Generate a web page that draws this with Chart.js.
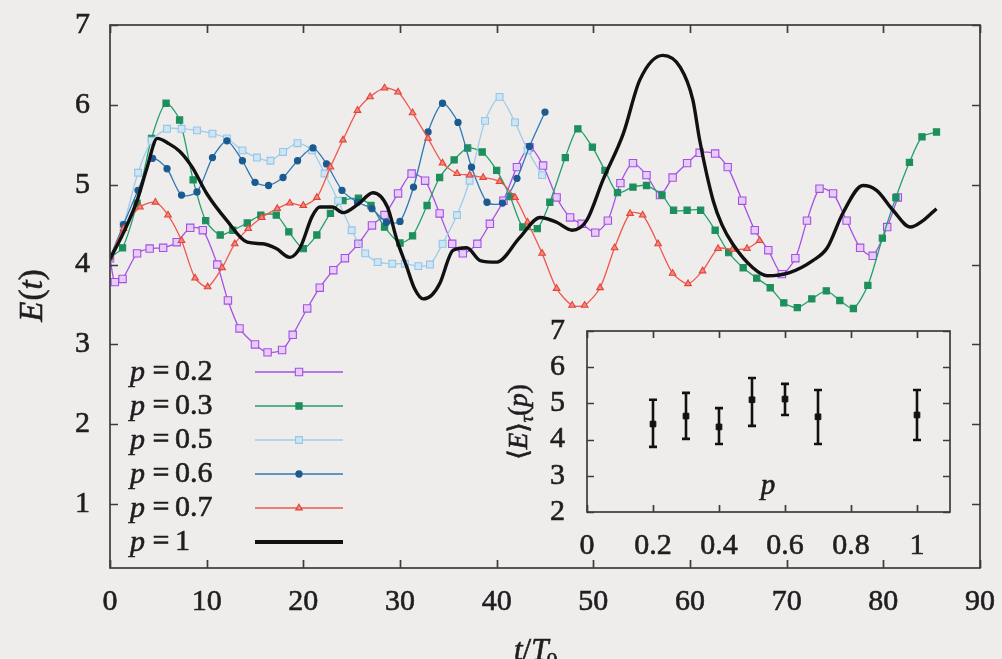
<!DOCTYPE html>
<html>
<head>
<meta charset="utf-8">
<script src="https://cdn.jsdelivr.net/npm/chart.js@4.4.1/dist/chart.umd.min.js"></script>
<style>
  html, body { margin: 0; padding: 0; background: #efecec; }
  #wrap { position: relative; width: 1002px; height: 659px; overflow: hidden; background: #efecec; }
  #main { position: absolute; left: 0; top: 0; }
  #inset { position: absolute; left: 490px; top: 300px; }
</style>
</head>
<body>
<div id="wrap">
  <canvas id="main" width="1002" height="659"></canvas>
  <canvas id="inset" width="480" height="280"></canvas>
</div>
<script>
// ---- Energy E(t) vs t/T0 for several p ----
const tP02 = [0.0,0.5,1.3,2.8,4.1,5.5,6.9,8.3,9.6,11.1,12.2,13.4,15.0,16.3,17.8,18.9,20.4,21.7,23.1,24.3,25.7,27.1,28.4,29.8,31.2,32.6,34.1,35.4,36.5,38.0,39.3,40.7,42.1,43.4,44.8,46.2,47.6,48.8,50.2,51.5,52.8,54.1,55.5,56.9,58.2,59.7,61.0,62.6,63.9,65.4,66.7,68.1,69.5,70.9,72.1,73.4,74.8,76.2,77.6,78.9,80.4,81.5];
const eP02 = [4.08,3.78,3.82,4.14,4.20,4.21,4.28,4.46,4.43,4.00,3.55,3.20,3.00,2.90,2.93,3.12,3.45,3.71,3.93,4.08,4.26,4.49,4.62,4.89,5.14,5.05,4.64,4.26,4.14,4.26,4.51,4.80,5.22,5.47,5.24,4.84,4.59,4.51,4.40,4.55,5.02,5.27,5.12,4.87,5.09,5.27,5.40,5.39,5.22,4.80,4.43,4.18,3.88,4.08,4.55,4.95,4.89,4.55,4.21,4.11,4.47,4.84];

const tP03 = [0.0,1.3,2.8,4.3,5.8,7.2,8.6,9.9,11.4,12.7,14.2,15.6,17.2,18.5,20.0,21.4,22.8,24.1,25.7,27.0,28.4,30.0,31.3,32.8,34.1,35.6,37.0,38.5,40.0,41.4,42.7,44.2,45.5,47.1,48.4,49.9,51.2,52.5,54.1,55.5,57.1,58.3,59.7,61.1,62.6,64.0,65.5,66.9,68.3,69.7,71.1,72.6,74.1,75.5,76.9,78.4,79.9,81.3,82.7,84.0,85.5];
const eP03 = [4.09,4.21,4.77,5.58,6.02,5.81,5.06,4.55,4.37,4.43,4.52,4.62,4.62,4.41,4.20,4.37,4.64,4.80,4.83,4.74,4.47,4.27,4.36,4.74,5.09,5.31,5.46,5.41,5.18,4.85,4.47,4.45,4.78,5.34,5.70,5.47,5.18,4.90,4.97,4.99,4.87,4.68,4.68,4.68,4.43,4.15,3.96,3.83,3.71,3.52,3.46,3.57,3.67,3.55,3.45,3.74,4.33,4.84,5.28,5.60,5.66];

const tP05 = [0.0,1.4,2.9,4.3,5.9,7.4,9.0,10.6,12.1,13.7,15.2,16.6,17.9,19.4,20.9,22.2,23.6,25.0,26.4,27.7,29.2,30.5,31.9,33.1,34.4,35.9,37.2,38.8,40.3,41.9,43.2,44.7];
const eP05 = [4.09,4.50,5.15,5.55,5.70,5.70,5.68,5.64,5.58,5.43,5.34,5.30,5.41,5.52,5.43,5.14,4.80,4.43,4.14,4.03,4.01,4.01,3.98,4.00,4.26,4.62,5.05,5.80,6.10,5.78,5.43,5.12];

const tP06 = [0.0,1.4,2.9,4.4,5.9,7.4,9.0,10.6,12.1,13.7,15.0,16.4,17.9,19.4,21.0,22.4,24.0,25.6,27.1,28.6,30.0,31.4,32.9,34.4,36.0,37.4,39.0,40.6,42.1,43.4,45.0];
const eP06 = [4.09,4.50,4.93,5.33,5.20,4.87,4.91,5.34,5.55,5.30,5.03,4.99,5.09,5.30,5.46,5.26,4.93,4.78,4.70,4.53,4.54,4.97,5.66,6.02,5.78,5.22,4.78,4.77,5.08,5.48,5.91];

const tP07 = [0.0,1.4,3.1,4.7,6.0,7.4,8.8,10.1,11.6,12.9,14.3,15.7,17.3,18.6,20.0,21.4,22.8,24.1,25.6,26.9,28.4,29.8,31.3,32.9,34.4,35.9,37.2,38.6,40.3,41.9,43.2,44.7,46.2,47.8,49.1,50.7,52.2,53.8,55.1,56.7,58.2,59.8,61.3,62.9,64.4,65.9,67.2];
const eP07 = [4.09,4.45,4.72,4.78,4.62,4.30,3.83,3.72,3.96,4.26,4.45,4.59,4.70,4.77,4.74,4.84,5.22,5.56,5.93,6.10,6.21,6.16,5.90,5.58,5.27,5.14,5.12,5.09,5.04,4.84,4.53,4.14,3.70,3.49,3.49,3.71,4.21,4.64,4.62,4.26,3.89,3.76,3.92,4.20,4.19,4.20,4.30];

const tP1 = [0.0,1.4,2.8,3.8,4.9,6.0,7.2,8.5,10.0,12.1,14.2,15.8,17.2,18.6,19.7,20.9,21.7,23.0,24.1,25.7,27.2,28.7,29.7,30.7,31.5,32.4,33.3,34.1,35.5,36.9,38.3,40.0,42.4,44.5,46.2,47.8,49.3,51.0,53.1,54.8,57.2,59.0,60.3,61.0,62.4,63.3,64.4,66.5,68.0,70.3,72.7,74.2,75.8,77.9,79.3,81.0,82.8,84.1,85.5];
const eP1 = [4.07,4.40,4.80,5.20,5.58,5.52,5.42,5.22,4.89,4.55,4.28,4.26,4.20,4.09,4.22,4.60,4.72,4.72,4.65,4.76,4.90,4.72,4.30,3.97,3.70,3.57,3.62,3.76,4.18,4.21,4.05,4.03,4.34,4.59,4.53,4.43,4.55,5.06,5.64,6.31,6.62,6.47,6.06,5.56,4.80,4.50,4.26,3.96,3.86,3.90,4.05,4.21,4.64,4.99,4.93,4.68,4.47,4.55,4.70];

const seriesLabels = ['0.2', '0.3', '0.5', '0.6', '0.7', '1'];
const xTicks = [0, 10, 20, 30, 40, 50, 60, 70, 80, 90];
const yTicks = [1, 2, 3, 4, 5, 6, 7];

// ---- Inset: time-averaged energy vs p ----
const pValues = [0.2, 0.3, 0.4, 0.5, 0.6, 0.7, 1];
const meanE   = [4.43, 4.65, 4.35, 5.10, 5.12, 4.63, 4.68];
const lowE    = [3.80, 4.02, 3.88, 4.38, 4.68, 3.88, 3.99];
const highE   = [5.10, 5.29, 4.87, 5.70, 5.54, 5.37, 5.37];
const insetXTicks = [0, 0.2, 0.4, 0.6, 0.8, 1];
const insetYTicks = [2, 3, 4, 5, 6, 7];

const SERIF = '"Liberation Serif", "DejaVu Serif", serif';
const BG = '#efecec';
const INK = '#1e1e1e';
const STROKE = 0.6;

const pts = (xs, ys) => xs.map((x, i) => ({ x: x, y: ys[i] }));

const styles = [
  { line: '#a64fe6', fill: '#e6cdf8', border: '#a64fe6', shape: 'rect', r: 5.2, w: 1.3 },
  { line: '#22a06c', fill: '#1d8f5c', border: '#1d8f5c', shape: 'rect', r: 4.4, w: 1.3 },
  { line: '#9fcdea', fill: '#cfe5f4', border: '#94c6e8', shape: 'rect', r: 4.8, w: 1.3 },
  { line: '#2f78b5', fill: '#1b5a90', border: '#1b5a90', shape: 'circle', r: 3.1, w: 1.3 },
  { line: '#ee584d', fill: '#f3877d', border: '#e2443a', shape: 'triangle', r: 3.8, w: 1.3 },
  { line: '#111111', fill: '#111111', border: '#111111', shape: false, r: 0, w: 3.4 }
];

const seriesData = [pts(tP02, eP02), pts(tP03, eP03), pts(tP05, eP05), pts(tP06, eP06), pts(tP07, eP07), pts(tP1, eP1)];

const datasets = seriesData.map((d, i) => {
  const s = styles[i];
  return {
    label: 'p = ' + seriesLabels[i],
    data: d,
    borderColor: s.line,
    borderWidth: s.w,
    backgroundColor: s.fill,
    pointStyle: s.shape,
    pointRadius: s.r,
    pointBorderColor: s.border,
    pointBackgroundColor: s.fill,
    pointBorderWidth: 1.1,
    tension: i === 5 ? 0 : 0.25,
    cubicInterpolationMode: i === 5 ? 'monotone' : 'default',
    fill: false,
    order: i === 5 ? 0 : 6 - i
  };
});

// text with a faint outline so the serif glyphs read a little heavier
function inkText(c, str, x, y) {
  c.fillText(str, x, y);
  c.lineWidth = STROKE;
  c.strokeStyle = INK;
  c.strokeText(str, x, y);
}

// background fill
const bgPlugin = {
  id: 'bg',
  beforeDraw(chart) {
    const c = chart.ctx;
    c.save();
    c.fillStyle = BG;
    c.fillRect(0, 0, chart.width, chart.height);
    c.restore();
  }
};

// plot frame with inward ticks on all four sides
function framePlugin(xVals, yVals, tickLen, lw) {
  return {
    id: 'frame',
    afterDraw(chart) {
      const c = chart.ctx, a = chart.chartArea;
      const xs = chart.scales.x, ys = chart.scales.y;
      c.save();
      c.strokeStyle = '#3c3c3c';
      c.lineWidth = lw;
      c.strokeRect(a.left, a.top, a.right - a.left, a.bottom - a.top);
      c.beginPath();
      xVals.forEach(v => {
        const px = Math.round(xs.getPixelForValue(v)) + 0.5;
        c.moveTo(px, a.bottom); c.lineTo(px, a.bottom - tickLen);
        c.moveTo(px, a.top); c.lineTo(px, a.top + tickLen);
      });
      yVals.forEach(v => {
        const py = Math.round(ys.getPixelForValue(v)) + 0.5;
        c.moveTo(a.left, py); c.lineTo(a.left + tickLen, py);
        c.moveTo(a.right, py); c.lineTo(a.right - tickLen, py);
      });
      c.stroke();
      c.restore();
    }
  };
}

// legend rows in the lower left of the plot and axis titles
const legendPlugin = {
  id: 'legendRows',
  afterDraw(chart) {
    const c = chart.ctx;
    const rowY = [372, 406, 440, 474, 508, 542];
    c.save();
    c.textBaseline = 'middle';
    datasets.forEach((ds, i) => {
      const y = rowY[i];
      c.fillStyle = INK;
      c.font = 'italic 30px ' + SERIF;
      c.textAlign = 'left';
      inkText(c, 'p', 130, y + 1);
      c.font = '30px ' + SERIF;
      c.textAlign = 'center';
      inkText(c, '=', 161, y);
      c.textAlign = 'left';
      inkText(c, seriesLabels[i], 175, y);
      const s = styles[i];
      c.strokeStyle = s.line;
      c.lineWidth = i === 5 ? 4.2 : 1.4;
      c.beginPath();
      c.moveTo(255, y); c.lineTo(343, y);
      c.stroke();
      if (s.shape) {
        c.fillStyle = s.fill;
        c.strokeStyle = s.border;
        c.lineWidth = 1.1;
        Chart.helpers.drawPoint(c, { pointStyle: s.shape, radius: s.r, rotation: 0, borderWidth: 1.1 }, 299, y);
      }
    });
    // y-axis title E(t)
    c.fillStyle = INK;
    c.save();
    c.translate(33, 296);
    c.rotate(-Math.PI / 2);
    c.textBaseline = 'middle';
    const F = 33;
    c.font = 'italic ' + F + 'px ' + SERIF;
    const wE = c.measureText('E').width;
    c.font = F + 'px ' + SERIF;
    const wP1 = c.measureText('(').width;
    c.font = 'italic ' + F + 'px ' + SERIF;
    const wT = c.measureText('t').width;
    c.font = F + 'px ' + SERIF;
    const wP2 = c.measureText(')').width;
    let x0 = -(wE + wP1 + wT + wP2) / 2;
    c.textAlign = 'left';
    c.font = 'italic ' + F + 'px ' + SERIF; inkText(c, 'E', x0, 0); x0 += wE + 1;
    c.font = F + 'px ' + SERIF; inkText(c, '(', x0, 0); x0 += wP1;
    c.font = 'italic ' + F + 'px ' + SERIF; inkText(c, 't', x0, 0); x0 += wT;
    c.font = F + 'px ' + SERIF; inkText(c, ')', x0, 0);
    c.restore();
    // x-axis title t/T0 (partly below the visible edge)
    c.fillStyle = INK;
    c.textAlign = 'left';
    c.textBaseline = 'alphabetic';
    c.font = 'italic 31px ' + SERIF;
    inkText(c, 't', 514, 660);
    let xx = 514 + c.measureText('t').width;
    c.font = '31px ' + SERIF;
    inkText(c, '/', xx, 660);
    xx += c.measureText('/').width;
    c.font = 'italic 31px ' + SERIF;
    inkText(c, 'T', xx, 660);
    xx += c.measureText('T').width;
    c.font = '22px ' + SERIF;
    inkText(c, '0', xx - 2, 667);
    c.restore();
  }
};

const tickFont = { family: SERIF, size: 30 };

new Chart(document.getElementById('main'), {
  type: 'line',
  data: { datasets: datasets },
  options: {
    responsive: false,
    animation: false,
    devicePixelRatio: 1,
    layout: { padding: { left: 0, right: 22, top: 25, bottom: 0 } },
    plugins: { legend: { display: false }, tooltip: { enabled: false } },
    scales: {
      x: {
        type: 'linear', min: 0, max: 90,
        grid: { display: false }, border: { display: false },
        afterBuildTicks: s => { s.ticks = xTicks.map(v => ({ value: v })); },
        afterFit: s => { s.height = 91; s.paddingLeft = 0; s.paddingRight = 0; },
        ticks: { font: tickFont, color: INK, textStrokeColor: INK, textStrokeWidth: STROKE, padding: 8, maxRotation: 0, autoSkip: false, callback: v => String(v) }
      },
      y: {
        type: 'linear', min: 0.2, max: 7,
        grid: { display: false }, border: { display: false },
        afterBuildTicks: s => { s.ticks = yTicks.map(v => ({ value: v })); },
        afterFit: s => { s.width = 110; s.paddingTop = 0; s.paddingBottom = 0; },
        ticks: { font: tickFont, color: INK, textStrokeColor: INK, textStrokeWidth: STROKE, padding: 12, autoSkip: false, callback: v => String(v) }
      }
    }
  },
  plugins: [bgPlugin, framePlugin(xTicks, yTicks, 8, 1.7), legendPlugin]
});

// error bars for the inset
const errorBarPlugin = {
  id: 'errorBars',
  afterDatasetsDraw(chart) {
    const c = chart.ctx, xs = chart.scales.x, ys = chart.scales.y;
    c.save();
    c.strokeStyle = '#111';
    c.lineWidth = 2.6;
    c.beginPath();
    pValues.forEach((p, i) => {
      const px = xs.getPixelForValue(p);
      const yl = ys.getPixelForValue(lowE[i]);
      const yh = ys.getPixelForValue(highE[i]);
      c.moveTo(px, yl); c.lineTo(px, yh);
      c.moveTo(px - 4, yl); c.lineTo(px + 4, yl);
      c.moveTo(px - 4, yh); c.lineTo(px + 4, yh);
    });
    c.stroke();
    c.restore();
  }
};

// inset plot area fill (the rest of the inset canvas stays transparent)
const insetAreaFill = {
  id: 'insetAreaFill',
  beforeDraw(chart) {
    const c = chart.ctx, a = chart.chartArea;
    c.save();
    c.fillStyle = BG;
    c.fillRect(a.left, a.top, a.right - a.left, a.bottom - a.top);
    c.restore();
  }
};

const insetLabels = {
  id: 'insetLabels',
  afterDraw(chart) {
    const c = chart.ctx;
    c.save();
    c.fillStyle = INK;
    c.textBaseline = 'middle';
    c.textAlign = 'center';
    c.font = 'italic 29px ' + SERIF;
    inkText(c, 'p', 278, 186);
    // rotated y title <E>_tau(p)
    c.translate(30, 122);
    c.rotate(-Math.PI / 2);
    const parts = [
      { t: '\u27E8', f: '27px ', dy: 0 },
      { t: 'E', f: 'italic 27px ', dy: 0 },
      { t: '\u27E9', f: '27px ', dy: 0 },
      { t: '\u03C4', f: 'italic 18px ', dy: 8 },
      { t: '(', f: '27px ', dy: 0 },
      { t: 'p', f: 'italic 27px ', dy: 0 },
      { t: ')', f: '27px ', dy: 0 }
    ];
    let total = 0;
    parts.forEach(q => { c.font = q.f + SERIF; q.w = c.measureText(q.t).width; total += q.w; });
    let x0 = -total / 2;
    c.textAlign = 'left';
    parts.forEach(q => { c.font = q.f + SERIF; inkText(c, q.t, x0, q.dy); x0 += q.w; });
    c.restore();
  }
};

new Chart(document.getElementById('inset'), {
  type: 'scatter',
  data: {
    datasets: [{
      data: pts(pValues, meanE),
      pointStyle: 'rect',
      pointRadius: 4,
      backgroundColor: '#111',
      borderColor: '#111'
    }]
  },
  options: {
    responsive: false,
    animation: false,
    devicePixelRatio: 1,
    layout: { padding: { left: 0, right: 20, top: 31, bottom: 0 } },
    plugins: { legend: { display: false }, tooltip: { enabled: false } },
    scales: {
      x: {
        type: 'linear', min: 0, max: 1.1,
        grid: { display: false }, border: { display: false },
        afterBuildTicks: s => { s.ticks = insetXTicks.map(v => ({ value: v })); },
        afterFit: s => { s.height = 68; s.paddingLeft = 0; s.paddingRight = 0; },
        ticks: { font: tickFont, color: INK, textStrokeColor: INK, textStrokeWidth: STROKE, padding: 8, maxRotation: 0, autoSkip: false, callback: v => String(v) }
      },
      y: {
        type: 'linear', min: 2, max: 7,
        grid: { display: false }, border: { display: false },
        afterBuildTicks: s => { s.ticks = insetYTicks.map(v => ({ value: v })); },
        afterFit: s => { s.width = 97; s.paddingTop = 0; s.paddingBottom = 0; },
        ticks: { font: tickFont, color: INK, textStrokeColor: INK, textStrokeWidth: STROKE, padding: 14, autoSkip: false, callback: v => String(v) }
      }
    }
  },
  plugins: [insetAreaFill, framePlugin(insetXTicks, insetYTicks, 7, 1.7), errorBarPlugin, insetLabels]
});
</script>
</body>
</html>
